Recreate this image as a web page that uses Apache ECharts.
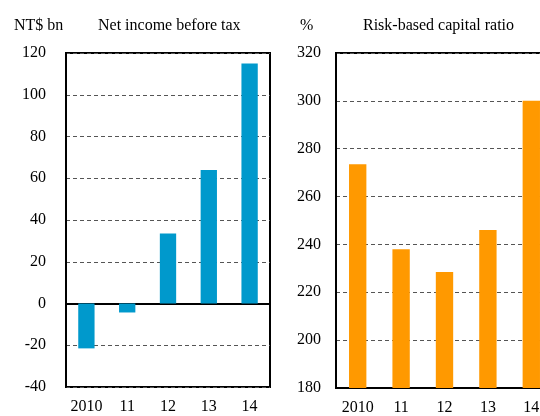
<!DOCTYPE html>
<html>
<head>
<meta charset="utf-8">
<script src="https://cdn.jsdelivr.net/npm/echarts@6/dist/echarts.min.js"></script>
<style>
  html, body { margin: 0; padding: 0; background: #fff; overflow: hidden; }
  /* the right panel runs past the picture's edge, so the canvas is a bit wider */
  #chart { width: 560px; height: 416px; }
</style>
</head>
<body>
<div id="chart"></div>
<script>
  // data
  var years = ['2010', '11', '12', '13', '14'];
  var netIncome = [-21.5, -4.3, 33.5, 64, 115];       // NT$ bn
  var capitalRatio = [273.5, 238, 228.5, 246, 300];   // %

  var font = 'Liberation Serif';
  var txt = { fontFamily: font, fontSize: 16, color: '#000', fontWeight: 'normal' };

  var gridLine = { show: true, lineStyle: { color: '#555', width: 1, type: [4, 3] } };

  var chart = echarts.init(document.getElementById('chart'));
  chart.setOption({
    animation: false,
    title: [
      { text: 'NT$ bn', left: 14, top: 18, padding: 0, textStyle: txt },
      { text: 'Net income before tax', left: 98, top: 18, padding: 0, textStyle: txt },
      { text: '%', left: 300, top: 18, padding: 0, textStyle: txt },
      { text: 'Risk-based capital ratio', left: 363, top: 18, padding: 0, textStyle: txt }
    ],
    grid: [
      { left: 66, top: 53, width: 204, height: 334, show: true, borderColor: '#000', borderWidth: 2 },
      { left: 336, top: 53, width: 217, height: 335, show: true, borderColor: '#000', borderWidth: 2 }
    ],
    xAxis: [
      // zero line with ticks
      { gridIndex: 0, type: 'category', data: years, position: 'bottom',
        axisLine: { onZero: true, lineStyle: { color: '#000', width: 2 } },
        axisTick: { inside: true, length: 4, lineStyle: { color: '#000', width: 1.5 } },
        axisLabel: { show: false } },
      // labels at the bottom
      { gridIndex: 0, type: 'category', data: years, position: 'bottom', offset: 0,
        axisLine: { show: false, onZero: false }, axisTick: { show: false },
        axisLabel: Object.assign({ margin: 12, interval: 0 }, txt) },
      { gridIndex: 1, type: 'category', data: years, position: 'bottom',
        axisLine: { lineStyle: { color: '#000', width: 2 } },
        axisTick: { inside: true, length: 4, lineStyle: { color: '#000', width: 1.5 } },
        axisLabel: Object.assign({ margin: 12, interval: 0 }, txt) }
    ],
    yAxis: [
      { gridIndex: 0, type: 'value', min: -40, max: 120, interval: 20,
        axisLine: { show: true, lineStyle: { color: '#000', width: 2 } },
        axisTick: { show: false }, splitLine: gridLine,
        axisLabel: Object.assign({ margin: 20 }, txt) },
      { gridIndex: 1, type: 'value', min: 180, max: 320, interval: 20,
        axisLine: { show: true, lineStyle: { color: '#000', width: 2 } },
        axisTick: { show: false }, splitLine: gridLine,
        axisLabel: Object.assign({ margin: 15 }, txt) }
    ],
    series: [
      { type: 'bar', xAxisIndex: 0, yAxisIndex: 0, data: netIncome, barWidth: '40%',
        itemStyle: { color: '#0099CC' }, z: 1 },
      { type: 'bar', xAxisIndex: 2, yAxisIndex: 1, data: capitalRatio, barWidth: '40%',
        itemStyle: { color: '#FF9900' }, z: 1 }
    ]
  });
</script>
</body>
</html>
